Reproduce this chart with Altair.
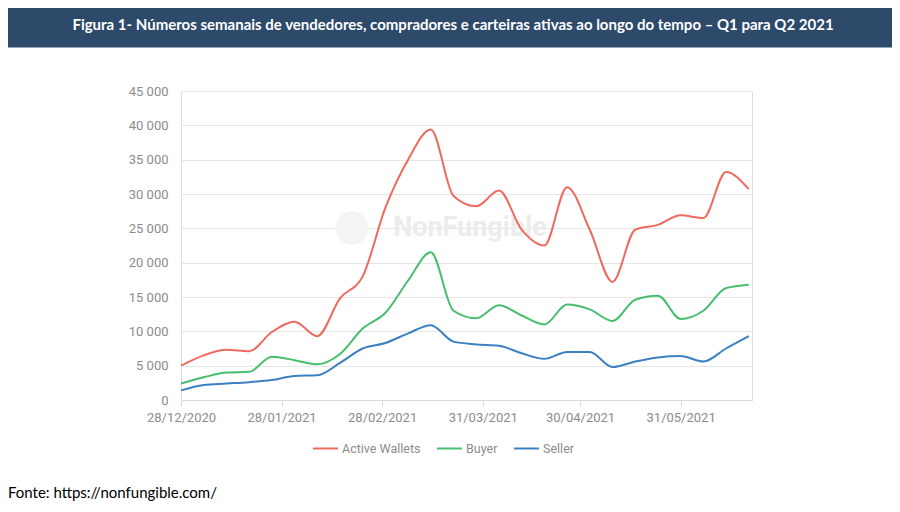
import altair as alt
import pandas as pd

# ---------------- data ----------------
dates = [
    "2020-12-28", "2021-01-04", "2021-01-11", "2021-01-18", "2021-01-25",
    "2021-02-01", "2021-02-08", "2021-02-15", "2021-02-22", "2021-03-01",
    "2021-03-08", "2021-03-15", "2021-03-22", "2021-03-29", "2021-04-05",
    "2021-04-12", "2021-04-19", "2021-04-26", "2021-05-03", "2021-05-10",
    "2021-05-17", "2021-05-24", "2021-05-31", "2021-06-07", "2021-06-14",
    "2021-06-21",
]
active_wallets = [5000, 6500, 7300, 7100, 9900, 11400, 9300, 14800, 18000, 28000,
                  35000, 39400, 29700, 28200, 30500, 24800, 22500, 31000, 24800, 17200,
                  24800, 25500, 26900, 26500, 33200, 30700]
buyers = [2400, 3300, 4000, 4100, 6300, 5800, 5200, 6700, 10400, 12700,
          17400, 21500, 13000, 11900, 13800, 12300, 11000, 13900, 13200, 11500,
          14600, 15200, 11800, 13000, 16300, 16800]
sellers = [1400, 2200, 2400, 2600, 2900, 3500, 3600, 5400, 7500, 8300,
           9700, 10900, 8500, 8100, 7900, 6800, 6000, 7000, 7000, 4800,
           5600, 6200, 6400, 5600, 7500, 9300]

series_names = ["Active Wallets", "Buyer", "Seller"]
series_colors = ["#EF6A5E", "#45BE6E", "#3D80C2"]
y_ticks = [0, 5000, 10000, 15000, 20000, 25000, 30000, 35000, 40000, 45000]
x_ticks = [(2020, 12, 28), (2021, 1, 28), (2021, 2, 28), (2021, 3, 31), (2021, 4, 30), (2021, 5, 31)]
x_domain = [(2020, 12, 28), (2021, 6, 22)]

title_text = "Figura 1- Números semanais de vendedores, compradores e carteiras ativas ao longo do tempo – Q1 para Q2 2021"
source_text = "Fonte: https://nonfungible.com/"
watermark_text = "NonFungible"

rows = []
for name, vals in zip(series_names, [active_wallets, buyers, sellers]):
    for d, v in zip(dates, vals):
        rows.append({"date": d, "series": name, "value": v})
df = pd.DataFrame(rows)

# ---------------- layout ----------------
TOTAL_W, TOTAL_H = 884, 496
PL, PT = 173, 83
W, H = 571, 309
PR, PB = TOTAL_W - PL - W, TOTAL_H - PT - H

AXIS_FONT = "Roboto"
LABEL_COLOR = "#8c8c8c"


def dt(t):
    return alt.DateTime(year=t[0], month=t[1], date=t[2], utc=True)


lines = alt.Chart(df).mark_line(interpolate="monotone", strokeWidth=2).encode(
    x=alt.X(
        "date:T",
        scale=alt.Scale(type="utc", domain=[dt(t) for t in x_domain]),
        axis=alt.Axis(
            values=[dt(t) for t in x_ticks],
            labelExpr="utcFormat(datum.value, '%d/%m/%Y')",
            title=None,
            grid=False,
            domainColor="#d9d9d9",
            tickColor="#d9d9d9",
            tickSize=6,
            labelPadding=5,
            labelFontSize=13,
            labelColor=LABEL_COLOR,
            labelFont=AXIS_FONT,
            labelOverlap=False,
            labelFlush=False,
            labelBound=False,
        ),
    ),
    y=alt.Y(
        "value:Q",
        scale=alt.Scale(domain=[0, 45000], nice=False),
        axis=alt.Axis(
            values=y_ticks,
            labelExpr="replace(format(datum.value, ','), ',', ' ')",
            title=None,
            domain=False,
            ticks=False,
            labelPadding=13,
            gridColor="#e6e6e6",
            gridWidth=1.2,
            labelFontSize=13,
            labelColor=LABEL_COLOR,
            labelFont=AXIS_FONT,
            labelOverlap=False,
        ),
    ),
    color=alt.Color(
        "series:N",
        scale=alt.Scale(domain=series_names, range=series_colors),
        legend=alt.Legend(
            title=None,
            orient="none",
            legendX=131,
            legendY=344,
            direction="horizontal",
            symbolType="stroke",
            symbolSize=625,
            symbolStrokeWidth=2,
            labelFontSize=12.5,
            labelColor=LABEL_COLOR,
            labelFont=AXIS_FONT,
            labelOffset=3,
            columnPadding=12,
        ),
    ),
)

one = pd.DataFrame({"k": [0]})

banner = alt.Chart(one).mark_rect(color="#2D4A6A").encode(
    x=alt.value(-PL), x2=alt.value(TOTAL_W - PL),
    y=alt.value(-PT), y2=alt.value(39.5 - PT),
)

title = alt.Chart(pd.DataFrame({"t": [title_text]})).mark_text(
    color="white", font="Lato", fontWeight="bold", fontSize=15,
    align="center", baseline="middle",
).encode(text="t:N", x=alt.value(272), y=alt.value(-66))

source = alt.Chart(pd.DataFrame({"t": [source_text]})).mark_text(
    color="black", font="Lato", fontSize=15,
    align="left", baseline="middle",
).encode(text="t:N", x=alt.value(-PL + 0), y=alt.value(402))

logo = alt.Chart(one).mark_point(filled=True, color="#f4f4f4", opacity=1, size=1100).encode(
    x=alt.value(171), y=alt.value(137)
)

watermark = alt.Chart(pd.DataFrame({"t": [watermark_text]})).mark_text(
    color="#ececec", font="Roboto", fontWeight="bold", fontSize=27,
    align="center", baseline="middle",
).encode(text="t:N", x=alt.value(289), y=alt.value(137))

chart = alt.layer(banner, title, source, logo, watermark, lines).properties(
    width=W, height=H,
    autosize=alt.AutoSizeParams(type="none"),
    padding={"left": PL, "top": PT, "right": PR, "bottom": PB},
).configure_view(stroke=None).configure(background="white")

chart.save("out.html", embed_options={"renderer": "svg", "actions": False})
